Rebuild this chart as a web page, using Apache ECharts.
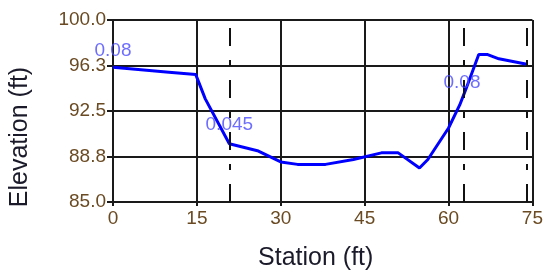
<!DOCTYPE html>
<html>
<head>
<meta charset="utf-8">
<script src="https://cdn.jsdelivr.net/npm/echarts@6/dist/echarts.min.js"></script>
<style>html,body{margin:0;padding:0;background:#fff;}#c{width:546px;height:276px;}</style>
</head>
<body>
<div id="c"></div>
<script>
// Ground profile
const stations = [0, 5, 10, 14.8, 16.5, 20.8, 26, 30, 33, 38, 43, 48, 51, 54.8, 56.3, 60, 62.0, 63.1, 65.4, 67, 69, 74];
const elevations = [96.1, 95.9, 95.7, 95.5, 93.5, 89.8, 89.2, 88.3, 88.1, 88.1, 88.5, 89.05, 89.05, 87.8, 88.5, 91.1, 93.0, 94.3, 97.15, 97.15, 96.8, 96.35];
// Manning's n labels
const nStations = [0, 20.8, 62.4];
const nElevations = [97.5, 91.4, 94.85];
const nLabels = ['0.08', '0.045', '0.08'];
// Dash-dot marker lines (bank stations / end)
const markerStations = [20.8, 62.7, 74];
// Axis ticks
const xTicks = [0, 15, 30, 45, 60, 75];
const yTicks = [85.0, 88.75, 92.5, 96.25, 100.0];
const yTickLabels = ['85.0', '88.8', '92.5', '96.3', '100.0'];

const chart = echarts.init(document.getElementById('c'), null, {renderer: 'canvas'});
const gridColor = '#1a1a1a';
const tickColor = '#6a4a22';
const font = 'Arial, "Liberation Sans", sans-serif';

chart.setOption({
  animation: false,
  grid: {left: 112, right: 13, top: 20, bottom: 71},
  xAxis: {
    type: 'value', min: 0, max: 75, interval: 15,
    name: 'Station (ft)', nameLocation: 'middle', nameGap: 44,
    nameTextStyle: {color: '#1a1a2a', fontSize: 25, fontFamily: font, padding: [0, 14, 0, 0]},
    axisLine: {show: true, lineStyle: {color: gridColor, width: 2}},
    axisTick: {show: true, length: 4, lineStyle: {color: gridColor, width: 2}},
    axisLabel: {color: tickColor, fontSize: 19, fontFamily: font, margin: 7,
      formatter: v => xTicks.indexOf(v) >= 0 ? String(v) : ''},
    splitLine: {show: true, lineStyle: {color: gridColor, width: 2}}
  },
  yAxis: {
    type: 'value', min: 85, max: 100,
    name: 'Elevation (ft)', nameLocation: 'middle', nameGap: 80, nameRotate: 90,
    nameTextStyle: {color: '#1a1a2a', fontSize: 25, fontFamily: font, padding: [0, 52, 0, 0]},
    axisLine: {show: true, lineStyle: {color: gridColor, width: 2}},
    axisTick: {show: true, length: 6, customValues: yTicks, lineStyle: {color: gridColor, width: 2}},
    axisLabel: {color: tickColor, fontSize: 19, fontFamily: font, margin: 7, customValues: yTicks,
      formatter: v => { const i = yTicks.findIndex(t => Math.abs(t - v) < 1e-6); return i >= 0 ? yTickLabels[i] : ''; }},
    splitLine: {show: true, lineStyle: {color: gridColor, width: 2}}
  },
  series: [
    {
      type: 'line',
      data: stations.map((s, i) => [s, elevations[i]]),
      showSymbol: false, symbol: 'none',
      lineStyle: {color: '#0000ff', width: 3},
      z: 3,
      markLine: {
        silent: true, symbol: 'none', label: {show: false},
        lineStyle: {color: '#111', width: 2, type: [18, 14, 6, 14], dashOffset: 0},
        data: markerStations.map(s => ({xAxis: s}))
      }
    },
    {
      type: 'scatter',
      data: nStations.map((s, i) => ({value: [s, nElevations[i]], name: nLabels[i]})),
      symbolSize: 0,
      z: 5,
      label: {show: true, position: 'inside', formatter: p => p.name,
        color: '#4848ff', fontSize: 19, fontFamily: font}
    }
  ]
});
</script>
</body>
</html>
